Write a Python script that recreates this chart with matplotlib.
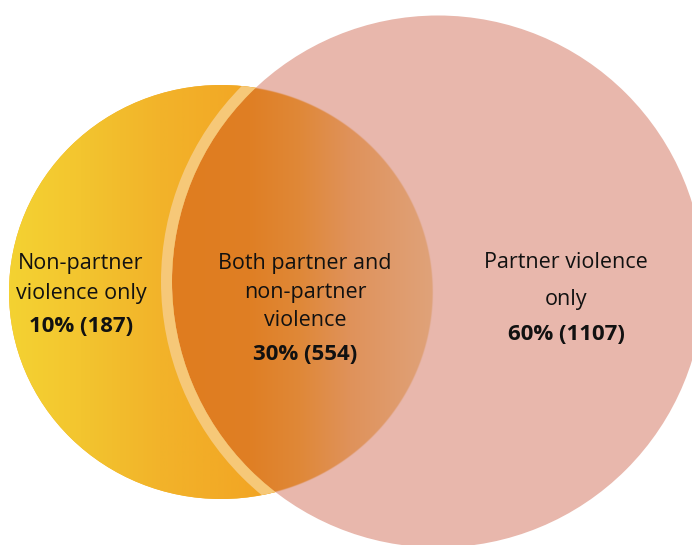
import numpy as np
import matplotlib
matplotlib.use('Agg')
import matplotlib.pyplot as plt
from matplotlib.patches import Ellipse, Circle, Wedge
from matplotlib.colors import LinearSegmentedColormap, to_rgb

# Venn data
region_labels = [['Non-partner', 'violence only'],
                 ['Both partner and', 'non-partner', 'violence'],
                 ['Partner violence', 'only']]
region_pct = [10, 30, 60]
region_counts = [187, 554, 1107]

plt.rcParams['font.family'] = ['Open Sans', 'DejaVu Sans']

fig = plt.figure(figsize=(6.92, 5.45), dpi=100)
ax = fig.add_axes([0, 0, 1, 1])
ax.set_xlim(0, 692)
ax.set_ylim(545, 0)
ax.axis('off')

# geometry (pixels)
left_c, left_w, left_h = (221, 292), 424, 414
pink_c, pink_r = (438, 281.5), 266

# left circle with yellow -> orange gradient
left = Ellipse(left_c, left_w, left_h, facecolor='#f2b02a', edgecolor='none', zorder=1)
ax.add_patch(left)
x0, x1 = left_c[0] - left_w / 2, left_c[0] + left_w / 2
stops = [(x0, '#f4d232'), (80, '#f3c52f'), (160, '#f2b32a'), (260, '#f2a524'), (x1, '#f2a524')]
cmap_left = LinearSegmentedColormap.from_list(
    'left', [((x - x0) / (x1 - x0), c) for x, c in stops])
grad = np.linspace(0, 1, 400).reshape(1, -1)
im = ax.imshow(grad, cmap=cmap_left, aspect='auto',
               extent=[x0, x1, left_c[1] + left_h / 2, left_c[1] - left_h / 2], zorder=2)
im.set_clip_path(left)

# pink circle
pink = Circle(pink_c, pink_r, facecolor='#e8b7ac', edgecolor='none', zorder=3)
ax.add_patch(pink)

# overlap region: orange -> salmon gradient
ox0, ox1, oy0, oy1 = 160, 440, 80, 505
nx, ny = 560, 850
xs = np.linspace(ox0, ox1, nx)
ys = np.linspace(oy0, oy1, ny)
X, Y = np.meshgrid(xs, ys)
ostops = [(160, '#e07c1e'), (250, '#e07f24'), (300, '#e08838'),
          (350, '#e0925a'), (400, '#e09c6e'), (440, '#e0a47c')]
sx = np.array([s[0] for s in ostops], float)
scol = np.array([to_rgb(s[1]) for s in ostops])
rgba = np.zeros((ny, nx, 4))
for k in range(3):
    rgba[..., k] = np.interp(X, sx, scol[:, k])
d = np.sqrt(((X - left_c[0]) / (left_w / 2)) ** 2 + ((Y - left_c[1]) / (left_h / 2)) ** 2)
rgba[..., 3] = np.clip((1 - d) * 210 + 0.5, 0, 1)
im2 = ax.imshow(rgba, aspect='auto', extent=[ox0, ox1, oy1, oy0], zorder=4,
                interpolation='bilinear')
im2.set_clip_path(pink)

# light band just outside the pink circle, inside the left circle
band = Wedge(pink_c, pink_r + 11, 0, 360, width=11, facecolor='#f6c878',
             edgecolor='none', zorder=5)
ax.add_patch(band)
band.set_clip_path(left)

# labels
txt = '#111111'
centers = [(81, 264, 29), (305, 264, 28.5), (566, 263, 36)]
for (cx, cy, step), lines, pct, n in zip(centers, region_labels, region_pct, region_counts):
    for i, line in enumerate(lines):
        ax.text(cx, cy + i * step, line, ha='center', va='center',
                fontsize=15.5, color=txt, zorder=10)
    ax.text(cx, cy + len(lines) * step + 5 - (0 if step < 30 else 5), f'{pct}% ({n})',
            ha='center', va='center', fontsize=16, fontweight='bold', color=txt, zorder=10)

fig.savefig('out.png', dpi=100)
